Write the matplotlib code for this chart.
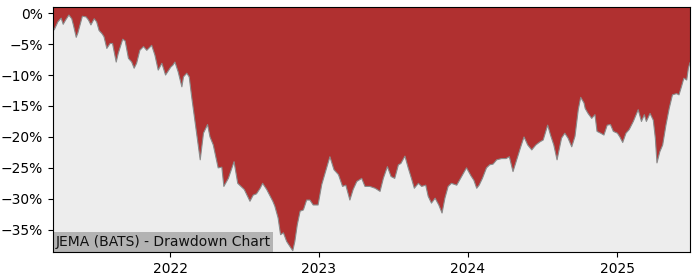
import matplotlib
matplotlib.use("Agg")
import matplotlib.pyplot as plt
import matplotlib.dates as mdates
from matplotlib.ticker import PercentFormatter, MultipleLocator
import pandas as pd
import numpy as np

title = "JEMA (BATS) - Drawdown Chart"

dates = [
    "2021-03-20", "2021-03-23", "2021-04-01", "2021-04-09", "2021-04-14", "2021-04-20",
    "2021-04-28", "2021-05-05", "2021-05-09", "2021-05-16", "2021-05-20", "2021-05-31",
    "2021-06-09", "2021-06-15", "2021-06-21", "2021-06-29", "2021-07-05", "2021-07-11",
    "2021-07-18", "2021-07-23", "2021-07-30", "2021-08-07", "2021-08-13", "2021-08-22",
    "2021-08-27", "2021-09-07", "2021-09-13", "2021-09-21", "2021-09-29", "2021-10-05",
    "2021-10-11", "2021-10-19", "2021-10-28", "2021-11-05", "2021-11-17", "2021-11-25",
    "2021-12-03", "2021-12-12", "2021-12-21", "2022-01-03", "2022-01-08", "2022-01-13",
    "2022-01-21", "2022-01-30", "2022-02-03", "2022-02-11", "2022-02-17", "2022-02-23",
    "2022-03-07", "2022-03-16", "2022-03-24", "2022-04-03", "2022-04-09", "2022-04-17",
    "2022-04-29", "2022-05-08", "2022-05-13", "2022-05-24", "2022-06-07", "2022-06-16",
    "2022-06-24", "2022-07-02", "2022-07-16", "2022-07-24", "2022-08-01", "2022-08-10",
    "2022-08-16", "2022-08-26", "2022-09-10", "2022-09-15", "2022-09-23", "2022-09-29",
    "2022-10-06", "2022-10-14", "2022-10-22", "2022-10-29", "2022-11-03", "2022-11-09",
    "2022-11-16", "2022-11-24", "2022-12-02", "2022-12-10", "2022-12-18", "2022-12-30",
    "2023-01-08", "2023-01-16", "2023-01-28", "2023-02-07", "2023-02-18", "2023-02-28",
    "2023-03-08", "2023-03-18", "2023-03-26", "2023-04-04", "2023-04-16", "2023-04-24",
    "2023-05-06", "2023-05-19", "2023-05-31", "2023-06-08", "2023-06-18", "2023-06-27",
    "2023-07-06", "2023-07-15", "2023-07-21", "2023-07-31", "2023-08-08", "2023-08-16",
    "2023-08-23", "2023-09-02", "2023-09-10", "2023-09-20", "2023-09-26", "2023-10-04",
    "2023-10-13", "2023-10-22", "2023-10-30", "2023-11-06", "2023-11-14", "2023-11-22",
    "2023-12-05", "2023-12-17", "2023-12-29", "2024-01-09", "2024-01-16", "2024-01-23",
    "2024-01-29", "2024-02-06", "2024-02-16", "2024-02-24", "2024-03-03", "2024-03-12",
    "2024-03-24", "2024-04-04", "2024-04-12", "2024-04-21", "2024-05-01", "2024-05-10",
    "2024-05-18", "2024-05-27", "2024-06-06", "2024-06-16", "2024-06-26", "2024-07-04",
    "2024-07-15", "2024-07-22", "2024-07-30", "2024-08-07", "2024-08-18", "2024-08-26",
    "2024-09-03", "2024-09-12", "2024-09-20", "2024-09-28", "2024-10-04", "2024-10-12",
    "2024-10-15", "2024-10-22", "2024-10-31", "2024-11-08", "2024-11-13", "2024-11-22",
    "2024-11-30", "2024-12-08", "2024-12-16", "2024-12-23", "2025-01-02", "2025-01-08",
    "2025-01-15", "2025-01-23", "2025-01-31", "2025-02-10", "2025-02-22", "2025-03-02",
    "2025-03-09", "2025-03-14", "2025-03-23", "2025-03-31", "2025-04-05", "2025-04-09",
    "2025-04-16", "2025-04-23", "2025-05-01", "2025-05-09", "2025-05-17", "2025-05-27",
    "2025-06-02", "2025-06-08", "2025-06-14", "2025-06-21", "2025-06-25", "2025-06-29",
]

drawdown_pct = [
    -2.0, -2.7, -1.4, -0.8, -1.8, -1.1,
    -0.3, -0.9, -1.9, -3.9, -3.2, -0.5,
    -0.6, -1.1, -1.9, -0.9, -1.4, -2.8,
    -3.3, -3.8, -5.7, -4.9, -4.9, -7.9,
    -6.5, -4.2, -4.5, -7.3, -7.9, -8.9,
    -8.1, -6.0, -5.4, -6.0, -5.2, -6.8,
    -9.2, -8.1, -10.0, -8.7, -8.4, -7.9,
    -9.5, -11.9, -10.3, -9.7, -10.3, -13.5,
    -19.4, -23.7, -19.4, -18.0, -20.0, -21.3,
    -25.0, -24.9, -28.0, -26.7, -24.0, -27.5,
    -28.0, -28.5, -30.4, -29.4, -29.2, -28.3,
    -27.5, -28.5, -30.4, -31.2, -33.1, -35.8,
    -35.5, -36.9, -37.7, -38.4, -36.9, -34.2,
    -32.0, -31.8, -30.2, -30.2, -31.0, -31.0,
    -27.7, -25.9, -23.2, -25.3, -26.1, -28.0,
    -27.8, -30.2, -28.5, -27.2, -26.7, -28.0,
    -28.0, -28.3, -28.8, -26.7, -24.8, -26.4,
    -26.7, -24.5, -24.3, -23.1, -25.0, -26.7,
    -28.3, -27.5, -28.0, -27.8, -29.6, -30.7,
    -29.9, -31.0, -32.3, -29.9, -28.0, -27.5,
    -27.8, -26.4, -25.0, -26.3, -27.0, -28.3,
    -27.8, -26.7, -25.0, -24.5, -24.4, -23.7,
    -23.5, -23.5, -23.2, -25.6, -23.5, -21.6,
    -20.0, -21.3, -22.1, -21.3, -20.8, -20.5,
    -18.1, -19.7, -21.3, -23.7, -20.2, -19.4,
    -20.2, -21.6, -19.9, -15.6, -13.6, -14.5,
    -15.4, -16.2, -17.0, -16.4, -19.1, -19.4,
    -19.7, -18.1, -18.0, -19.1, -19.4, -20.0,
    -20.9, -19.4, -18.8, -17.5, -15.6, -17.5,
    -16.4, -17.5, -16.2, -17.3, -20.2, -24.2,
    -22.4, -21.3, -18.1, -15.4, -13.2, -13.0,
    -13.2, -11.9, -10.5, -10.8, -8.9, -8.0,
]

x = pd.to_datetime(dates)
y = np.array(drawdown_pct)

fig = plt.figure(figsize=(7, 2.8), dpi=100)
ax = fig.add_axes([53/700, 1 - 252/280, (690 - 53)/700, (252 - 7)/280])
ax.set_facecolor("#ededed")
ax.set_xlim(x[0], x[-1])
ax.set_ylim(-38.6, 1.0)
top = ax.get_ylim()[1]
ax.fill_between(x, y, top, facecolor="#b03030", edgecolor="none", zorder=2)
ax.plot(x, y, color="#8a8a8a", linewidth=0.8, zorder=3)

ax.yaxis.set_major_locator(MultipleLocator(5))
ax.yaxis.set_major_formatter(PercentFormatter(xmax=100, decimals=0))
ax.xaxis.set_major_locator(mdates.YearLocator())
ax.xaxis.set_major_formatter(mdates.DateFormatter("%Y"))
ax.tick_params(labelsize=10)
for s in ax.spines.values():
    s.set_color("black")
    s.set_zorder(6)

ax.text(0.004, 0.012, title, transform=ax.transAxes, fontsize=10, ha="left", va="bottom",
        color="#111111", zorder=5,
        bbox=dict(facecolor="#b3b3b3", edgecolor="none", pad=2.0))

fig.savefig("out.png", dpi=100)
